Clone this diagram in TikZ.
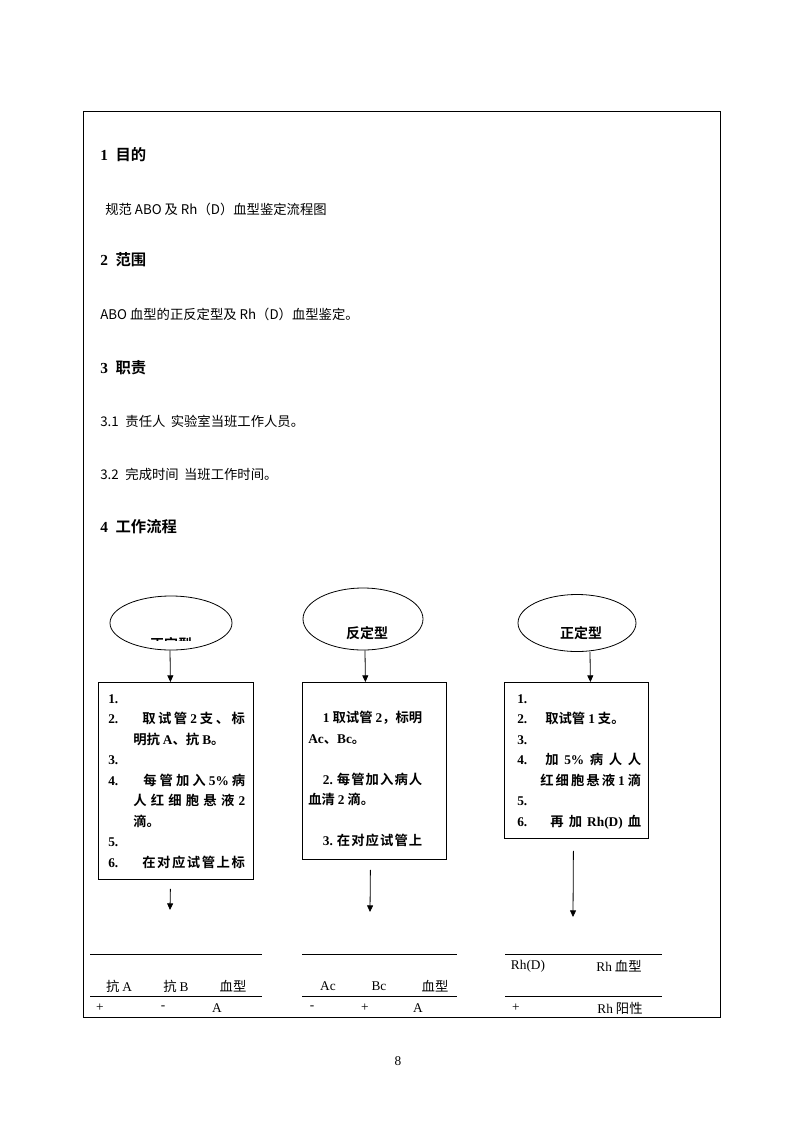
\documentclass[tikz,border=0pt]{standalone}
\usepackage{fontspec}
\setmainfont{Noto Sans CJK SC}[BoldFont={Noto Sans CJK SC Bold}]
\newfontfamily\tnrfont{Liberation Serif}
\newcommand{\tnr}[1]{{\tnrfont #1}}
\newcommand{\jline}[2]{\makebox[#1][s]{#2}}
\usetikzlibrary{arrows.meta,positioning,shapes.geometric}

\begin{document}
\begin{tikzpicture}[
  x=0.75pt, y=-0.75pt,
  heading/.style={anchor=west, inner sep=0pt, font=\bfseries\fontsize{11.5pt}{13pt}\selectfont},
  body/.style={anchor=west, inner sep=0pt, font=\fontsize{10pt}{12pt}\selectfont},
  oval/.style={draw, ellipse, line width=0.6pt, inner sep=0pt},
  ovaltext/.style={inner sep=0pt, font=\bfseries\fontsize{10.5pt}{12pt}\selectfont},
  stepbox/.style={draw, rectangle, line width=0.6pt, anchor=north west, inner sep=0pt},
  steps/.style={anchor=north west, inner sep=0pt, align=left,
    font=\bfseries\fontsize{10pt}{15.4pt}\selectfont},
  cell/.style={inner sep=0pt, font=\fontsize{10pt}{12pt}\selectfont},
  arr/.style={-{Triangle[length=5pt, width=4.5pt]}, line width=0.6pt},
  rule/.style={line width=0.6pt}
]
  \useasboundingbox (0,0) rectangle (793,1122);
  \draw[line width=0.6pt] (83,111) rectangle (720,1017);

  % sections
  \node[heading] (sec1) at (100,155) {\tnr{1}\hspace{0.5em}目的};
  \node[body] (aim) at (105,209) {规范 ABO 及 Rh（D）血型鉴定流程图};
  \node[heading] (sec2) at (100,260) {\tnr{2}\hspace{0.5em}范围};
  \node[body] (scope) at (100,314) {ABO 血型的正反定型及 Rh（D）血型鉴定。};
  \node[heading] (sec3) at (100,368) {\tnr{3}\hspace{0.5em}职责};
  \node[body] (duty1) at (100,421) {3.1\hspace{0.5em}责任人\hspace{0.4em}实验室当班工作人员。};
  \node[body] (duty2) at (100,474) {3.2\hspace{0.5em}完成时间\hspace{0.4em}当班工作时间。};
  \node[heading] (sec4) at (100,527) {\tnr{4}\hspace{0.5em}工作流程};

  % ovals
  \node[oval, minimum width=91.5pt, minimum height=40.5pt] (fwd) at (171,623) {};
  \begin{scope}
    \clip (110,596) rectangle (232,640);
    \node[ovaltext] (fwdlbl) at (171,644) {正定型};
  \end{scope}
  \node[oval, minimum width=90pt, minimum height=46.5pt] (rev) at (363,619) {};
  \node[ovaltext] (revlbl) at (367,633) {反定型};
  \node[oval, minimum width=88.5pt, minimum height=42.75pt] (rhd) at (577,623) {};
  \node[ovaltext] (rhdlbl) at (581,633) {正定型};

  % step boxes
  \node[stepbox, minimum width=116.25pt, minimum height=147.75pt] (box1) at (98,682) {};
  \node[stepbox, minimum width=108pt, minimum height=132.75pt] (box2) at (302,682) {};
  \node[stepbox, minimum width=108pt, minimum height=117pt] (box3) at (504,682) {};

  \node[steps] (steps1) at (108,694) {%
    \tnr{1.}\\
    \makebox[25.5pt][l]{\tnr{2.}}\jline{77pt}{取\hfill 试\hfill 管 \tnr{2} 支\hfill 、\hfill 标}\\
    \hspace{18.75pt}明抗 \tnr{A}、抗 \tnr{B}。\\
    \tnr{3.}\\
    \makebox[26.25pt][l]{\tnr{4.}}\jline{76.5pt}{每\hfill 管\hfill 加\hfill 入 \tnr{5\%}\hfill 病}\\
    \hspace{18.75pt}\jline{84pt}{人\hfill 红\hfill 细\hfill 胞\hfill 悬\hfill 液\hfill \tnr{2}}\\
    \hspace{18.75pt}滴。\\
    \tnr{5.}\\
    \makebox[25.5pt][l]{\tnr{6.}}\jline{77pt}{在\hfill 对\hfill 应\hfill 试\hfill 管\hfill 上\hfill 标}};
  \node[steps] (steps2) at (308,691) {%
    \phantom{取}\\
    \hspace{11pt}\jline{74.5pt}{\tnr{1} 取\hfill 试\hfill 管 \tnr{2}，\hfill 标\hfill 明}\\
    \tnr{Ac}、\tnr{Bc}。\\
    \phantom{取}\\
    \hspace{11pt}\jline{74.5pt}{\tnr{2.} 每\hfill 管\hfill 加\hfill 入\hfill 病\hfill 人}\\
    血清 \tnr{2} 滴。\\
    \phantom{取}\\
    \hspace{11pt}\jline{74.5pt}{\tnr{3.} 在\hfill 对\hfill 应\hfill 试\hfill 管\hfill 上}};
  \node[steps] (steps3) at (517,694) {%
    \tnr{1.}\\
    \makebox[21pt][l]{\tnr{2.}}取试管 \tnr{1} 支。\\
    \tnr{3.}\\
    \makebox[21pt][l]{\tnr{4.}}\jline{72pt}{加\hfill \tnr{5\%}\hfill 病\hfill 人\hfill 人}\\
    \hspace{17.25pt}\jline{75.75pt}{红\hfill 细\hfill 胞\hfill 悬\hfill 液 \tnr{1} 滴}\\
    \tnr{5.}\\
    \makebox[24.75pt][l]{\tnr{6.}}\jline{68.25pt}{再\hfill 加\hfill \tnr{Rh(D)}\hfill 血}};

  % arrows
  \draw[arr] ([xshift=-0.75pt]fwd.south) -- ([xshift=-4.1pt]box1.north);
  \draw[arr] ([xshift=1.5pt]rev.south) -- ([xshift=-6.75pt]box2.north);
  \draw[arr] ([xshift=9.75pt]rhd.south) -- ([xshift=10.5pt]box3.north);

  \coordinate (res1) at (170,910);
  \coordinate (res2) at (370,912);
  \coordinate (res3) at (573,917);
  \draw[arr] ([shift={(-5.5,9)}]box1.south) -- (res1);
  \draw[arr] ([shift={(-4,10)}]box2.south) -- (res2);
  \draw[arr] ([shift={(-3,12)}]box3.south) -- (res3);

  % result tables
  \draw[rule] (90,954) -- (262,954);
  \draw[rule] (90,996) -- (262,996);
  \node[cell] (t1a) at (119,986) {抗 \tnr{A}};
  \node[cell] (t1b) at (176,986) {抗 \tnr{B}};
  \node[cell] (t1c) at (233,986) {血型};
  \node[cell] (t1d) at (100,1008) {\tnr{+}};
  \node[cell] (t1e) at (163,1008) {\tnr{-}};
  \node[cell] (t1f) at (217,1008) {\tnr{A}};

  \draw[rule] (302,954) -- (457,954);
  \draw[rule] (302,996) -- (457,996);
  \node[cell] (t2a) at (328,986) {\tnr{Ac}};
  \node[cell] (t2b) at (379,986) {\tnr{Bc}};
  \node[cell] (t2c) at (435,986) {血型};
  \node[cell] (t2d) at (312,1008) {\tnr{-}};
  \node[cell] (t2e) at (365,1008) {\tnr{+}};
  \node[cell] (t2f) at (418,1008) {\tnr{A}};

  \draw[rule] (505,954) -- (662,954);
  \draw[rule] (505,996) -- (662,996);
  \node[cell] (t3a) at (528,966) {\tnr{Rh(D)}};
  \node[cell] (t3b) at (619,966) {\tnr{Rh} 血型};
  \node[cell] (t3c) at (516,1008) {\tnr{+}};
  \node[cell] (t3d) at (620,1008) {\tnr{Rh} 阳性};

  \node[cell] (pageno) at (398,1061) {\tnr{8}};
\end{tikzpicture}
\end{document}
